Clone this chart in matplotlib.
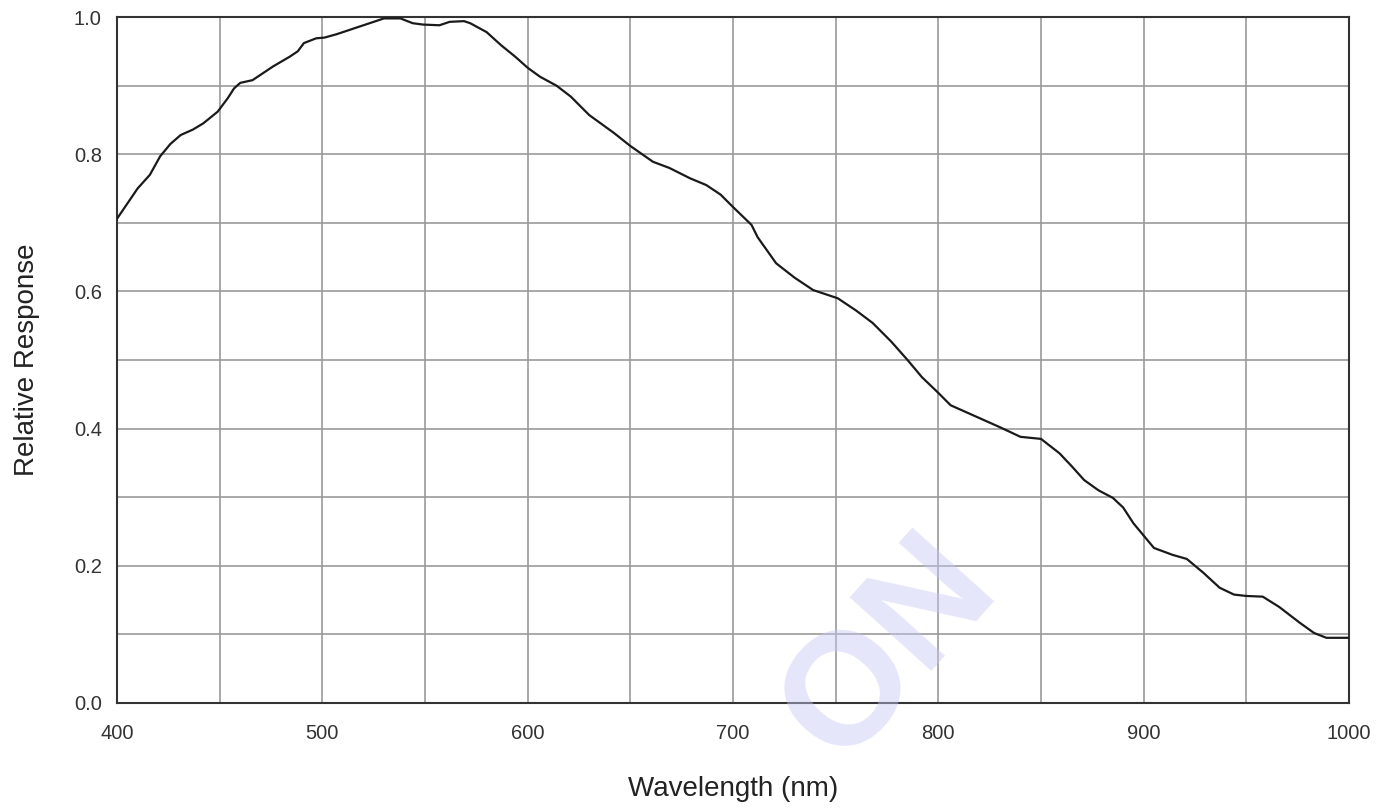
import matplotlib.pyplot as plt

plt.rcParams['font.family'] = ['Liberation Sans', 'DejaVu Sans']

# Relativ respons avlest fra kurven
wavelength = [400, 405, 410, 416, 421, 426, 431, 437, 442, 449, 454, 457, 460, 466,
              471, 476, 484, 488, 491, 497, 501, 507, 513, 522, 530, 538, 544, 549,
              557, 562, 569, 572, 580, 587, 594, 600, 606, 614, 621, 630, 642, 650,
              661, 669, 679, 687, 694, 700, 709, 712, 721, 730, 739, 751, 760, 768,
              777, 785, 792, 800, 806, 818, 830, 840, 850, 859, 865, 871, 878, 885,
              890, 895, 905, 914, 921, 929, 937, 944, 950, 958, 966, 976, 983, 989,
              1000]
response = [0.706, 0.728, 0.750, 0.770, 0.797, 0.815, 0.828, 0.836, 0.845, 0.862,
            0.882, 0.896, 0.904, 0.908, 0.918, 0.928, 0.942, 0.950, 0.962, 0.969,
            0.970, 0.975, 0.981, 0.990, 0.998, 0.998, 0.991, 0.989, 0.988, 0.993,
            0.994, 0.991, 0.978, 0.959, 0.942, 0.926, 0.913, 0.900, 0.884, 0.857,
            0.831, 0.812, 0.789, 0.780, 0.765, 0.755, 0.741, 0.723, 0.697, 0.679,
            0.641, 0.620, 0.602, 0.590, 0.572, 0.554, 0.527, 0.500, 0.475, 0.452,
            0.434, 0.418, 0.402, 0.388, 0.385, 0.364, 0.345, 0.325, 0.310, 0.299,
            0.285, 0.262, 0.226, 0.216, 0.210, 0.190, 0.168, 0.158, 0.156, 0.155,
            0.140, 0.117, 0.102, 0.095, 0.095]

x_ticks = [400, 500, 600, 700, 800, 900, 1000]
y_ticks = [0.0, 0.2, 0.4, 0.6, 0.8, 1.0]

fig = plt.figure(figsize=(13.9, 8.11), dpi=100)
ax = fig.add_axes([0.0842, 0.1332, 0.8863, 0.8458])

ax.plot(wavelength, response, color="#1a1a1a", linewidth=1.6,
        solid_joinstyle="round", zorder=3)

ax.set_xlim(400, 1000)
ax.set_ylim(0, 1.0)
ax.set_xticks(x_ticks)
ax.set_yticks(y_ticks)
ax.set_xticks(range(450, 1000, 100), minor=True)
ax.set_yticks([0.1, 0.3, 0.5, 0.7, 0.9], minor=True)
ax.set_yticklabels([f"{v:.1f}" for v in y_ticks])
ax.grid(True, which="both", color="#999999", linewidth=1.2)
ax.tick_params(which="both", length=0, labelsize=14.5, labelcolor="#333333")
ax.tick_params(axis="x", pad=15)
ax.tick_params(axis="y", pad=11)

for s in ax.spines.values():
    s.set_color("#333333")
    s.set_linewidth(1.5)

ax.set_xlabel("Wavelength (nm)", fontsize=20, color="#222222", labelpad=24)
ax.set_ylabel("Relative Response", fontsize=20, color="#222222", labelpad=24)

# vannmerke
fig.text(0.64, 0.20, "ON", fontsize=115, fontweight="bold", color="#c8c8f5",
         alpha=0.45, rotation=48, ha="center", va="center", zorder=0)

plt.savefig("out.png", dpi=100)
